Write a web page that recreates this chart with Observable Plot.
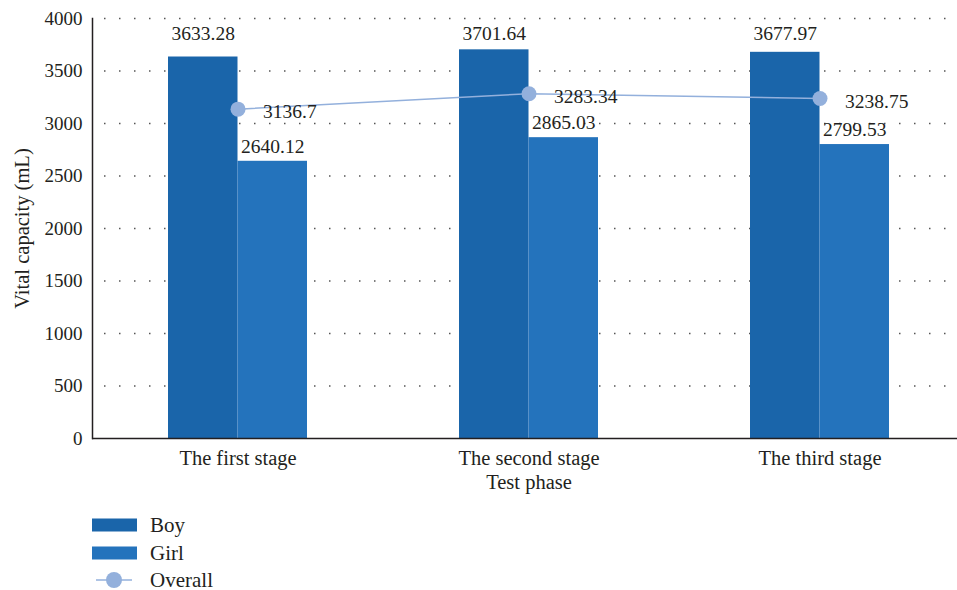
<!DOCTYPE html>
<html>
<head>
<meta charset="utf-8">
<script src="https://cdn.jsdelivr.net/npm/d3@7"></script>
<script src="https://cdn.jsdelivr.net/npm/@observablehq/plot@0.6"></script>
<style>
  body { margin: 0; background: white; }
  #wrap { position: relative; width: 957px; height: 590px; }
  .lg { position: absolute; left: 92px; height: 28px; display: flex; align-items: center; font-family: "Liberation Serif", serif; font-size: 21px; color: #231f20; }
  .lg svg { margin-right: 13px; }
</style>
</head>
<body>
<div id="wrap">
  <div id="chart"></div>
  <div id="legend"></div>
</div>
<script>
const stages = ["The first stage", "The second stage", "The third stage"];
const boy = [3633.28, 3701.64, 3677.97];
const girl = [2640.12, 2865.03, 2799.53];
const overall = [3136.7, 3283.34, 3238.75];
const yTicks = [0, 500, 1000, 1500, 2000, 2500, 3000, 3500, 4000];
const seriesNames = ["Boy", "Girl", "Overall"];
const colors = ["#1a65aa", "#2473bc", "#93b0dc"];

const rows = stages.map((s, i) => ({stage: s, boy: boy[i], girl: girl[i], overall: overall[i]}));

const chart = Plot.plot({
  width: 957,
  height: 500,
  marginLeft: 92,
  marginRight: 0,
  marginTop: 18,
  marginBottom: 62,
  style: {fontFamily: "Liberation Serif, serif", fontSize: "19px", color: "#231f20", background: "white", overflow: "visible"},
  x: {domain: stages, range: [92, 965], padding: 0, label: null},
  y: {domain: [0, 4000], ticks: yTicks, label: null},
  marks: [
    Plot.ruleY(yTicks.filter(d => d > 0), {stroke: "#555", strokeWidth: 1.3, strokeDasharray: "1.5 13.5", strokeDashoffset: 3}),
    Plot.barY(rows, {x: "stage", y: "boy", fill: colors[0], insetLeft: 76, insetRight: 145.5}),
    Plot.barY(rows, {x: "stage", y: "girl", fill: colors[1], insetLeft: 145.5, insetRight: 76}),
    Plot.ruleY([0], {stroke: "#231f20", strokeWidth: 1.5}),
    Plot.frame({anchor: "left", stroke: "#231f20", strokeWidth: 1.5}),
    Plot.line(rows, {x: "stage", y: "overall", stroke: colors[2], strokeWidth: 1.5}),
    Plot.dot(rows, {x: "stage", y: "overall", r: 7.5, fill: colors[2]}),
    Plot.text(rows, {x: "stage", y: "overall", text: d => String(d.overall), dx: 25, dy: 3, textAnchor: "start", fontSize: 19.5, fill: "#231f20"}),
    Plot.text(rows, {x: "stage", y: () => 4000, text: d => d.boy.toFixed(2), dx: -34.75, dy: 15, fontSize: 19.5, fill: "#231f20"}),
    Plot.text(rows, {x: "stage", y: "girl", text: d => d.girl.toFixed(2), dx: 34.75, dy: -15, fontSize: 19.5, fill: "#231f20"}),
    Plot.axisY({ticks: yTicks, tickFormat: d => String(d), tickSize: 0, tickPadding: 10, label: null, fontSize: 19}),
    Plot.axisX({tickSize: 0, tickPadding: 12, label: null, fontSize: 20.5}),
    Plot.text(["Test phase"], {x: () => stages[1], frameAnchor: "bottom", lineAnchor: "middle", dy: 44, fontSize: 20.5, fill: "#231f20"}),
    Plot.text(["Vital capacity (mL)"], {frameAnchor: "left", textAnchor: "middle", rotate: -90, dx: -70, fontSize: 20.5, fill: "#231f20"})
  ]
});
document.getElementById("chart").appendChild(chart);

// Legend below the chart
const legend = document.getElementById("legend");
const tops = [511, 539, 566];
seriesNames.forEach((name, i) => {
  const row = document.createElement("div");
  row.className = "lg";
  row.style.top = tops[i] + "px";
  const swatch = i < 2
    ? `<svg width="45" height="14"><rect x="0" y="0.5" width="45" height="13" fill="${colors[i]}"/></svg>`
    : `<svg width="45" height="18"><line x1="4" x2="40" y1="9" y2="9" stroke="${colors[2]}" stroke-width="1.5"/><circle cx="22" cy="9" r="8" fill="${colors[2]}"/></svg>`;
  row.innerHTML = swatch + `<span>${name}</span>`;
  legend.appendChild(row);
});
</script>
</body>
</html>
